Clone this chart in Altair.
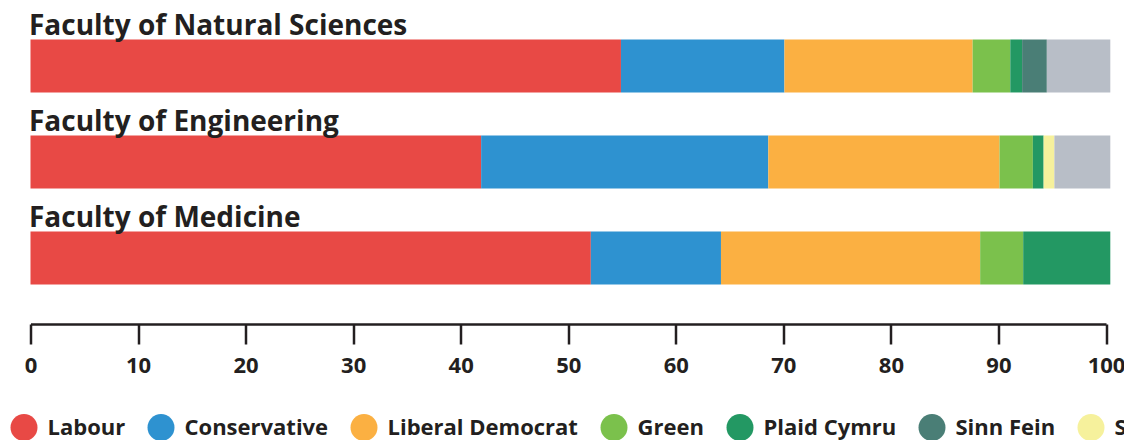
import altair as alt
import pandas as pd

# Faculties (top to bottom) and parties (stacking / legend order)
faculties = ["Faculty of Natural Sciences", "Faculty of Engineering", "Faculty of Medicine"]
parties = ["Labour", "Conservative", "Liberal Democrat", "Green",
           "Plaid Cymru", "Sinn Fein", "SNP", "Other"]
party_colors = ["#e84945", "#2e92d0", "#fbb042", "#7bc14c",
                "#239863", "#4a7e76", "#f6f19c", "#b8bec7"]

# Vote share (%) per party, in the order of `parties`
natural_sciences = [54.9, 15.2, 17.5, 3.5, 1.1, 2.3, 0.0, 5.9]
engineering = [41.9, 26.7, 21.5, 3.1, 1.0, 0.0, 1.0, 5.2]
medicine = [52.1, 12.1, 24.1, 4.0, 8.1, 0.0, 0.0, 0.0]

x_ticks = [0, 10, 20, 30, 40, 50, 60, 70, 80, 90, 100]

rows = []
for faculty, shares in zip(faculties, [natural_sciences, engineering, medicine]):
    for i, (party, share) in enumerate(zip(parties, shares)):
        if share > 0:
            rows.append({"faculty": faculty, "party": party, "share": share, "rank": i})
shares_df = pd.DataFrame(rows)
titles_df = pd.DataFrame({"faculty": faculties})

INK = "#231f20"
FONT = "Open Sans"

y_enc = alt.Y(
    "faculty:N",
    sort=faculties,
    scale=alt.Scale(paddingInner=0.448, paddingOuter=0.411),
    axis=None,
)

bars = alt.Chart(shares_df).mark_bar().encode(
    x=alt.X(
        "share:Q",
        stack="zero",
        scale=alt.Scale(domain=[0, 100], nice=False, zero=True),
        axis=alt.Axis(
            values=x_ticks,
            title=None,
            grid=False,
            domainColor=INK,
            domainWidth=2.5,
            tickColor=INK,
            tickWidth=2.5,
            tickSize=20,
            labelFont=FONT,
            labelFontSize=22,
            labelFontWeight="bold",
            labelColor=INK,
            labelPadding=11,
            labelFlush=False,
            labelOverlap=False,
        ),
    ),
    y=y_enc,
    color=alt.Color(
        "party:N",
        scale=alt.Scale(domain=parties, range=party_colors),
        legend=alt.Legend(
            title=None,
            orient="none",
            legendX=-20,
            legendY=414,
            direction="horizontal",
            symbolType="circle",
            symbolSize=729,
            symbolStrokeWidth=0,
            symbolOpacity=1,
            labelFont=FONT,
            labelFontSize=22,
            labelFontWeight="bold",
            labelColor=INK,
            labelOffset=10,
            labelLimit=400,
            columnPadding=22,
        ),
    ),
    order=alt.Order("rank:Q"),
)

titles = alt.Chart(titles_df).mark_text(
    align="left",
    baseline="alphabetic",
    dy=-31,
    font=FONT,
    fontSize=28,
    fontWeight="bold",
    color=INK,
).encode(
    x=alt.value(-1.5),
    y=y_enc,
    text="faculty:N",
)

chart = (
    alt.layer(bars, titles)
    .properties(
        width=1075.5,
        height=324,
        autosize=alt.AutoSizeParams(type="none"),
        padding={"left": 30.5, "top": 0, "right": 18, "bottom": 116},
        background="white",
    )
    .configure_view(stroke=None)
)

chart.save("out.html", embed_options={"renderer": "svg", "actions": False})
